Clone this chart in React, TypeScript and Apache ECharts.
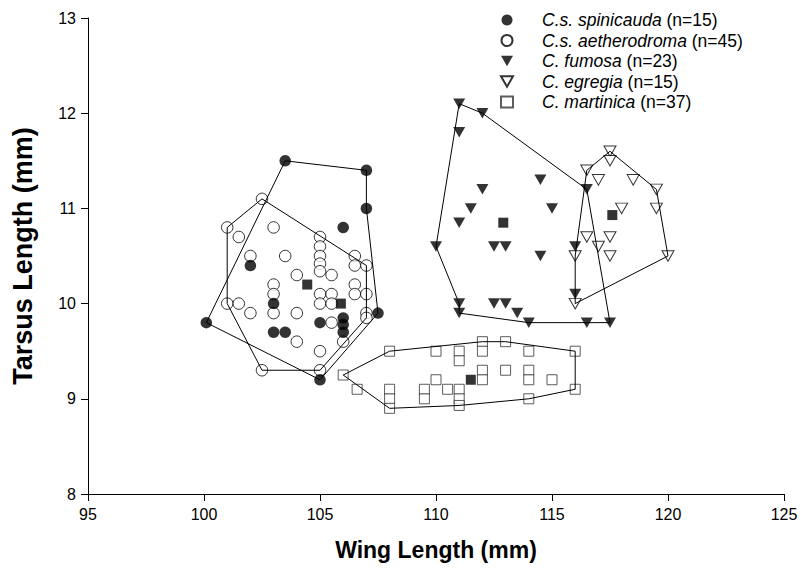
import React, { useEffect, useRef } from "react";
import * as echarts from "echarts";

const FONT = "'Liberation Sans', Arial, sans-serif";

const xTicks = { min: 95, max: 125, interval: 5 };
const yTicks = { min: 8, max: 13, interval: 1 };

const speciesNames = [
  "C.s. spinicauda",
  "C.s. aetherodroma",
  "C. fumosa",
  "C. egregia",
  "C. martinica",
];
const speciesCounts = [15, 45, 23, 15, 37];

const spinicauda = [
  [103.5, 11.5], [107, 11.4], [107, 11.0], [106, 10.8], [102, 10.4],
  [103, 10.0], [107.5, 9.9], [100.1, 9.8], [105, 9.8], [106, 9.85],
  [106, 9.78], [106, 9.7], [103, 9.7], [103.5, 9.7], [105, 9.2],
];

const aetherodroma = [
  [101, 10.8], [101, 10.0], [101.5, 10.7], [101.5, 10.0], [102, 10.5],
  [102, 9.9], [102.5, 11.1], [102.5, 9.3], [103, 10.8], [103, 10.2],
  [103, 10.1], [103, 9.9], [103.5, 10.5], [104, 10.3], [104, 9.9],
  [104, 9.6], [105, 10.7], [105, 10.6], [105, 10.5], [105, 10.42],
  [105, 10.34], [105, 10.1], [105, 10.0], [105, 9.5], [105, 9.3],
  [105.5, 10.3], [105.5, 10.1], [105.5, 10.0], [105.5, 9.8], [106, 9.6],
  [106.5, 10.5], [106.5, 10.4], [106.5, 10.2], [106.5, 10.1], [107, 10.4],
  [107, 10.1], [107, 9.9], [107, 9.85],
];

const fumosa = [
  [111, 12.1], [112, 12.0], [111, 11.8], [114.5, 11.3], [112, 11.2],
  [116.5, 11.2], [111.5, 11.0], [115, 11.0], [111, 10.85], [110, 10.6],
  [112.5, 10.6], [113, 10.6], [116, 10.6], [114.5, 10.5], [116, 10.1],
  [111, 10.0], [112.5, 10.0], [113, 10.0], [111, 9.9], [113.5, 9.9],
  [114, 9.8], [116.5, 9.8], [117.5, 9.8],
];

const egregia = [
  [117.5, 11.6], [117.5, 11.5], [116.5, 11.4], [117, 11.3], [118.5, 11.3],
  [119.5, 11.2], [118, 11.0], [119.5, 11.0], [116.5, 10.7], [117.5, 10.7],
  [117, 10.6], [116, 10.5], [117.5, 10.5], [120, 10.5], [116, 10.0],
];

const martinica = [
  [106, 9.25], [106.6, 9.1], [108, 9.5], [108, 9.1], [108, 9.0],
  [108, 8.9], [109.5, 9.1], [109.5, 9.0], [110, 9.5], [110, 9.2],
  [110.5, 9.1], [111, 9.5], [111, 9.4], [111, 9.1], [111, 9.0],
  [111, 8.93], [112, 9.6], [112, 9.5], [112, 9.3], [112, 9.2],
  [113, 9.6], [113, 9.3], [114, 9.5], [114, 9.3], [114, 9.2],
  [114, 9.0], [115, 9.2], [116, 9.5], [116, 9.1],
];

const means = [
  [104.45, 10.2], [105.9, 10.0], [112.9, 10.85], [117.6, 10.93], [111.5, 9.2],
];

const spinicaudaHull = [
  [103.5, 11.5], [107, 11.4], [107, 11.0], [107.5, 9.9], [105, 9.2], [100.1, 9.8], [103.5, 11.5],
];
const aetherodromaHull = [
  [102.5, 11.1], [107, 10.4], [107, 9.85], [105, 9.3], [102.5, 9.3], [101, 10.0], [101, 10.8], [102.5, 11.1],
];
const fumosaHull = [
  [111, 12.1], [112, 12.0], [116.5, 11.2], [117.5, 9.8], [114, 9.8], [111, 9.9], [111, 10.0], [110, 10.6], [111, 12.1],
];
const egregiaHull = [
  [117.5, 11.6], [119.5, 11.2], [120, 10.5], [116, 10.0], [116, 10.5], [116.5, 11.4], [117.5, 11.6],
];
const martinicaHull = [
  [106, 9.25], [108, 9.5], [112, 9.6], [113, 9.6], [116, 9.5], [116, 9.1], [114, 9.0], [111, 8.93], [108, 8.9], [106, 9.25],
];

const TRI_DOWN = "path://M0,0L12,0L6,10.5Z";

export default function App() {
  const ref = useRef<HTMLDivElement>(null);

  useEffect(() => {
    document.body.style.margin = "0";
    const chart = echarts.init(ref.current!, undefined, { renderer: "svg" });

    const open = { color: "#fff", borderColor: "#000", borderWidth: 1 };
    const filled = { color: "#000" };

    const scatter = (name: string, data: number[][], symbol: string, size: any, itemStyle: any, z = 3) => ({
      name,
      type: "scatter",
      data,
      symbol,
      symbolSize: size,
      itemStyle,
      z,
    });

    const hull = (data: number[][]) => ({
      type: "line",
      data,
      symbol: "none",
      silent: true,
      lineStyle: { color: "#000", width: 1 },
      z: 4,
    });

    const counts: Record<string, number> = {};
    speciesNames.forEach((n, i) => (counts[n] = speciesCounts[i]));

    chart.setOption({
      animation: false,
      backgroundColor: "#fff",
      grid: { left: 88, right: 17, top: 18, bottom: 75, containLabel: false, outerBoundsMode: "none" },
      legend: {
        data: speciesNames,
        orient: "vertical",
        left: 500,
        top: 11,
        padding: 0,
        itemWidth: 12,
        itemHeight: 11,
        itemGap: 2.5,
        selectedMode: false,
        formatter: (name: string) => `{sp|}{i|${name}} (n=${counts[name]})`,
        textStyle: {
          fontFamily: FONT,
          fontSize: 17.5,
          color: "#000",
          lineHeight: 18,
          rich: {
            sp: { width: 24 },
            i: { fontFamily: FONT, fontSize: 17.5, fontStyle: "italic", color: "#000" },
          },
        },
      },
      xAxis: {
        type: "value",
        min: xTicks.min,
        max: xTicks.max,
        interval: xTicks.interval,
        name: "Wing Length (mm)",
        nameLocation: "middle",
        nameGap: 44,
        nameTextStyle: { fontFamily: FONT, fontSize: 23, fontWeight: "bold", color: "#000" },
        axisLine: { show: true, onZero: false, lineStyle: { color: "#000", width: 1 } },
        axisTick: { show: true, length: 7, lineStyle: { color: "#000" } },
        axisLabel: { fontFamily: FONT, fontSize: 16, color: "#000", margin: 12 },
        splitLine: { show: false },
      },
      yAxis: {
        type: "value",
        min: yTicks.min,
        max: yTicks.max,
        interval: yTicks.interval,
        name: "Tarsus Length (mm)",
        nameLocation: "middle",
        nameGap: 52,
        nameTextStyle: { fontFamily: FONT, fontSize: 27, fontWeight: "bold", color: "#000" },
        axisLine: { show: true, onZero: false, lineStyle: { color: "#000", width: 1 } },
        axisTick: { show: true, length: 7, lineStyle: { color: "#000" } },
        axisLabel: { fontFamily: FONT, fontSize: 16, color: "#000", margin: 12 },
        splitLine: { show: false },
      },
      series: [
        scatter(speciesNames[1], aetherodroma, "circle", 11.5, open),
        scatter(speciesNames[0], spinicauda, "circle", 11.5, filled),
        scatter(speciesNames[4], martinica, "rect", 10, { color: "#fff", borderColor: "#333", borderWidth: 1 }),
        scatter(speciesNames[3], egregia, TRI_DOWN, [12, 10.5], open),
        scatter(speciesNames[2], fumosa, TRI_DOWN, [12, 10.5], filled),
        scatter("Means", means, "rect", 10, filled, 5),
        hull(spinicaudaHull),
        hull(aetherodromaHull),
        hull(fumosaHull),
        hull(egregiaHull),
        hull(martinicaHull),
      ],
    });

    return () => chart.dispose();
  }, []);

  return <div ref={ref} style={{ width: 801, height: 569 }} />;
}
